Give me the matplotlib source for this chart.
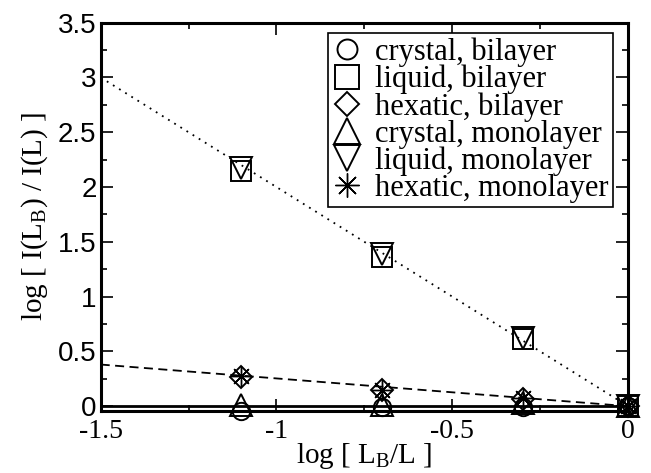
import numpy as np
import matplotlib
matplotlib.use('Agg')
import matplotlib.pyplot as plt

# data (log L_B/L vs log I(L_B)/I(L))
x = [-1.1, -0.7, -0.3, 0.0]
crystal_bi = [-0.045, -0.012, -0.005, 0.0]
liquid_bi = [2.15, 1.36, 0.61, 0.0]
hexatic_bi = [0.27, 0.145, 0.07, 0.0]
crystal_mono = [0.01, 0.015, 0.03, 0.0]
liquid_mono = [2.17, 1.39, 0.62, 0.0]
hexatic_mono = [0.275, 0.15, 0.075, 0.0]

# fit lines
fit_x = [-1.5, 0.0]
fit_liquid = [3.0, 0.0]
fit_hexatic = [0.38, 0.0]
fit_crystal = [0.0, 0.0]

plt.rcParams['font.family'] = ['Liberation Serif', 'DejaVu Serif']
plt.rcParams['mathtext.fontset'] = 'custom'
plt.rcParams['mathtext.rm'] = 'Liberation Serif'
plt.rcParams['mathtext.it'] = 'Liberation Serif'

fig = plt.figure(figsize=(6.51, 4.73), dpi=100)
ax = fig.add_axes([0.1547, 0.132, 0.81, 0.82])

ax.plot(fit_x, fit_liquid, color='black', lw=1.3, linestyle=(0, (1, 3)))
ax.plot(fit_x, fit_hexatic, color='black', lw=1.3, linestyle=(0, (5, 3)))
ax.plot(fit_x, fit_crystal, color='black', lw=2.0)

mk = dict(color='black', linestyle='none', markerfacecolor='none',
          markeredgewidth=1.4, clip_on=False)
ax.plot(x, crystal_bi, marker='o', ms=12.5, label='crystal, bilayer', **mk)
ax.plot(x, liquid_bi, marker='s', ms=14.5, label='liquid, bilayer', **mk)
ax.plot(x, hexatic_bi, marker='D', ms=11, label='hexatic, bilayer', **mk)
ax.plot(x, crystal_mono, marker='^', ms=16, label='crystal, monolayer', **mk)
ax.plot(x, liquid_mono, marker='v', ms=16, label='liquid, monolayer', **mk)
ax.plot(x, hexatic_mono, marker=(8, 2, 0), ms=15, label='hexatic, monolayer',
        color='black', linestyle='none', markeredgewidth=1.0, clip_on=False)

ax.set_xlim(-1.5, 0.0)
ax.set_ylim(-0.04, 3.5)
ax.set_xticks([-1.5, -1.0, -0.5, 0.0])
ax.set_xticklabels(['-1.5', '-1', '-0.5', '0'])
ax.set_xticks(np.arange(-1.5, 0.01, 0.25), minor=True)
ax.set_yticks([0, 0.5, 1, 1.5, 2, 2.5, 3, 3.5])
ax.set_yticklabels(['0', '0.5', '1', '1.5', '2', '2.5', '3', '3.5'])
ax.set_yticks(np.arange(0, 3.51, 0.25), minor=True)

ax.tick_params(which='both', direction='in', top=True, right=True, width=1.2)
ax.tick_params(which='major', length=8.5)
ax.tick_params(which='minor', length=4.5)
ax.tick_params(axis='x', labelsize=20, pad=6)
ax.tick_params(axis='y', labelsize=20, pad=3)
for lab in ax.get_yticklabels():
    lab.set_fontfamily('Liberation Sans')
for sp in ax.spines.values():
    sp.set_linewidth(2.2)

ax.set_xlabel(r'log [ $\mathrm{L_B}$/L ]', fontsize=21, labelpad=-2)
ax.set_ylabel(r'log [ I($\mathrm{L_B}$) / I(L) ]', fontsize=21, labelpad=6)

leg = ax.legend(loc='upper right', bbox_to_anchor=(0.9715, 0.9735), fontsize=22,
                frameon=True, fancybox=False, edgecolor='black', framealpha=1,
                labelspacing=-0.07, handlelength=1.0, handletextpad=0.4,
                borderpad=0.15, borderaxespad=0, numpoints=1, markerscale=1.15)
leg.get_frame().set_linewidth(1.2)

fig.savefig('out.png', dpi=100)
